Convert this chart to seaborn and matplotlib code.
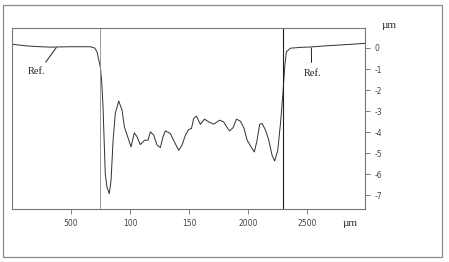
import matplotlib
matplotlib.use("Agg")
import matplotlib.pyplot as plt
import seaborn as sns
import pandas as pd
from matplotlib.patches import Rectangle

# Profile data (x in µm, depth in µm)
x_pos = [0, 120, 240, 330, 390, 500, 600, 663, 700, 720, 748, 760, 771, 790, 804, 824, 839, 856, 875,
         904, 932, 952, 980, 1008, 1036, 1059, 1087, 1124, 1152, 1172, 1200, 1229, 1257,
         1279, 1299, 1341, 1375, 1412, 1440, 1469, 1497, 1520, 1539, 1562, 1596, 1630,
         1666, 1708, 1759, 1793, 1822, 1844, 1873, 1901, 1935, 1963, 1992, 2028, 2053,
         2076, 2098, 2119, 2147, 2175, 2203, 2225, 2251, 2274, 2293, 2310, 2324, 2358,
         2443, 2536, 2650, 2800, 2990]
depth = [0.18, 0.10, 0.06, 0.04, 0.05, 0.06, 0.06, 0.06, 0.0, -0.18, -0.9, -1.6, -2.8, -5.97, -6.6, -6.92,
         -6.3, -4.4, -3.1, -2.52, -2.95, -3.75, -4.22, -4.7, -4.03, -4.22, -4.59, -4.38,
         -4.38, -3.98, -4.14, -4.62, -4.73, -4.22, -3.94, -4.06, -4.46, -4.86, -4.62,
         -4.14, -3.87, -3.83, -3.35, -3.24, -3.63, -3.38, -3.51, -3.62, -3.43, -3.51,
         -3.78, -3.94, -3.78, -3.38, -3.48, -3.78, -4.38, -4.73, -4.94, -4.38, -3.62,
         -3.59, -3.9, -4.38, -5.1, -5.37, -4.86, -3.59, -2.3, -0.9, -0.18, -0.01, 0.03,
         0.05, 0.1, 0.15, 0.22]

x_ticks = [500, 1000, 1500, 2000, 2500]
x_tick_labels = ["500", "100", "150", "2000", "2500"]
y_ticks = [0, -1, -2, -3, -4, -5, -6, -7]
y_tick_labels = ["0", "-1", "-2", "-3", "-4", "-5", "-6", "-7"]
edge_lines = [748, 2299]

df = pd.DataFrame({"x": x_pos, "depth": depth})

sns.set_style("white")
fig = plt.figure(figsize=(4.49, 2.62), dpi=100)
ax = fig.add_axes([12 / 449, 1 - 209 / 262, (365 - 12) / 449, (209 - 28) / 262])

sns.lineplot(data=df, x="x", y="depth", ax=ax, sort=False, estimator=None,
             color="#303030", linewidth=0.7)

ax.axvline(edge_lines[0], color="#8a8a8a", linewidth=0.6)
ax.axvline(edge_lines[1], color="#202020", linewidth=0.8)

ax.set_xlim(0, 2990)
ax.set_ylim(-7.65, 0.95)
ax.set_xticks(x_ticks)
ax.set_xticklabels(x_tick_labels)
ax.set_yticks(y_ticks)
ax.set_yticklabels(y_tick_labels)
ax.yaxis.tick_right()
ax.tick_params(axis="both", direction="out", length=3.5, width=0.6, colors="#666666",
               labelsize=5.5, labelcolor="#444444", pad=3.5)
ax.tick_params(axis="y", right=True, left=False)
ax.tick_params(axis="x", bottom=True)
ax.set_xlabel("")
ax.set_ylabel("")
for s in ax.spines.values():
    s.set_color("#777777")
    s.set_linewidth(0.8)

serif = ["Liberation Serif", "DejaVu Serif"]
ax.annotate("Ref.", xy=(375, 0.02), xytext=(131, -1.1), fontsize=7.5, family=serif,
            color="#222222", ha="left", va="center",
            arrowprops=dict(arrowstyle="-", color="#222222", lw=0.7, shrinkA=1, shrinkB=0,
                            relpos=(0.85, 1.0)))
ax.annotate("Ref.", xy=(2536, 0.0), xytext=(2545, -1.19), fontsize=7.5, family=serif,
            color="#222222", ha="center", va="center",
            arrowprops=dict(arrowstyle="-", color="#222222", lw=0.7, shrinkA=2, shrinkB=0,
                            relpos=(0.45, 1.0)))

fig.text(389 / 449, 1 - 25 / 262, "µm", fontsize=8, family=serif, color="#333333",
         ha="center", va="center")
fig.text(350 / 449, 1 - 223 / 262, "µm", fontsize=8, family=serif, color="#333333",
         ha="center", va="center")

fig.add_artist(Rectangle((3 / 449, 1 - 257 / 262), (442 - 3) / 449, (257 - 5) / 262,
                         transform=fig.transFigure, fill=False, edgecolor="#8a8a8a",
                         linewidth=0.9))

fig.savefig("out.png", dpi=100)
